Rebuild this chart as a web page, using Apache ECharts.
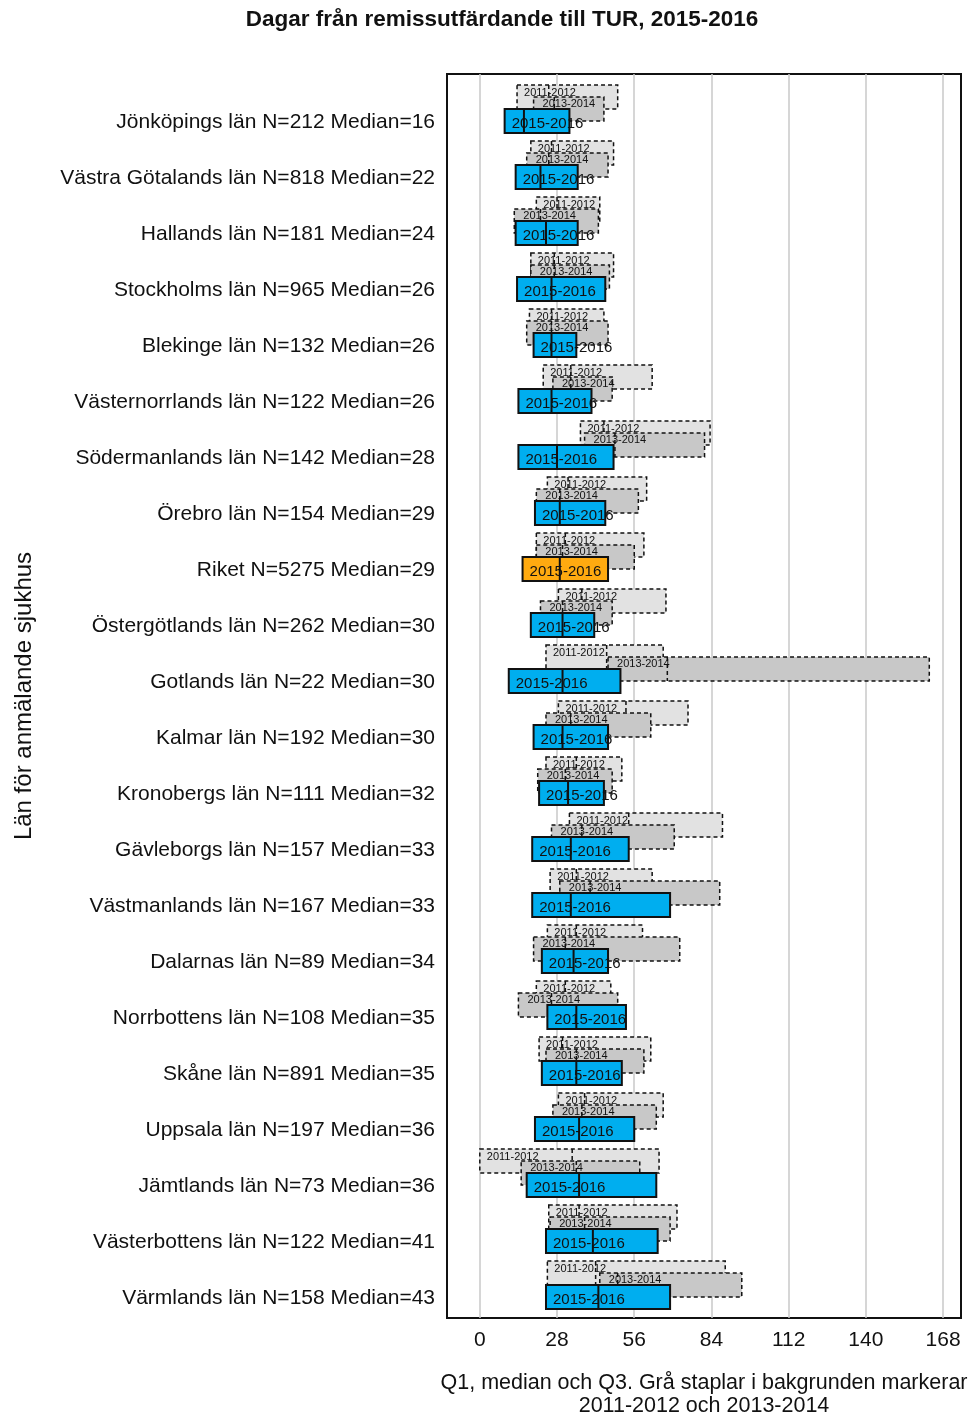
<!DOCTYPE html>
<html>
<head>
<meta charset="utf-8">
<script src="https://cdn.jsdelivr.net/npm/echarts@6/dist/echarts.min.js"></script>
<style>
  html, body { margin: 0; padding: 0; background: #fff; }
  #chart { width: 968px; height: 1418px; }
</style>
</head>
<body>
<div id="chart"></div>
<script>
// Regions, patient counts and 2015-2016 medians (as printed in the row labels)
const regions = [
  "Jönköpings län", "Västra Götalands län", "Hallands län", "Stockholms län",
  "Blekinge län", "Västernorrlands län", "Södermanlands län", "Örebro län",
  "Riket", "Östergötlands län", "Gotlands län", "Kalmar län",
  "Kronobergs län", "Gävleborgs län", "Västmanlands län", "Dalarnas län",
  "Norrbottens län", "Skåne län", "Uppsala län", "Jämtlands län",
  "Västerbottens län", "Värmlands län"
];
const counts = [212, 818, 181, 965, 132, 122, 142, 154, 5275, 262, 22, 192,
                111, 157, 167, 89, 108, 891, 197, 73, 122, 158];

// 2015-2016: Q1, median, Q3 (days)
const q1_2015  = [9, 13, 13, 13.5, 19.5, 14, 14, 20, 15.5, 18.5, 10.5, 19.5,
                  21.5, 19, 19, 22.5, 24.5, 22.5, 20, 17, 24, 24];
const med_2015 = [16, 22, 24, 26, 26, 26, 28, 29, 29, 30, 30, 30,
                  32, 33, 33, 34, 35, 35, 36, 36, 41, 43];
const q3_2015  = [32.5, 35.5, 35.5, 45.5, 35, 40.5, 48.5, 45.5, 46.5, 41.5, 51, 46.5,
                  45, 54, 69, 46.5, 53, 51.5, 56, 64, 64.5, 69];

// 2013-2014: Q1, median, Q3 (days)
const q1_2013  = [19.5, 17, 12.5, 18.5, 17, 26.5, 38, 20.5, 20.5, 22, 46.5, 24,
                  21, 26, 29, 19.5, 14, 24, 26.5, 15, 25.5, 43.5];
const med_2013 = [27, 25, 22, 27, 26, 33, 49, 29, 30, 30, 68, 33,
                  31, 37, 40, 31, 26, 35, 37, 35, 38, 50];
const q3_2013  = [45, 46.5, 43, 47, 46.5, 48, 81.5, 57.5, 56, 48, 163, 62,
                  48, 70.5, 87, 72.5, 50, 59.5, 64, 58, 69, 95];

// 2011-2012: Q1, median, Q3 (days)
const q1_2011  = [13.5, 18.5, 20.5, 18.5, 18, 23, 36.5, 24.5, 20.5, 28.5, 24, 28.5,
                  24, 32.5, 25.5, 24.5, 20.5, 21.5, 28.5, 0, 25, 24.5];
const med_2011 = [25, 26, 28, 27, 26, 33, 45, 32, 31, 37, 46, 53,
                  35, 54, 35, 35, 31, 30, 38, 33.5, 36, 42];
const q3_2011  = [50, 48.5, 43.5, 48.5, 45, 62.5, 83.5, 60.5, 59.5, 67.5, 66.5, 75.5,
                  51.5, 88, 62.5, 59, 47.5, 62, 66.5, 65, 71.5, 89];

const xTicks = [0, 28, 56, 84, 112, 140, 168];
const highlightRegion = "Riket";

const rowLabels = regions.map((r, i) => r + " N=" + counts[i] + " Median=" + med_2015[i]);
const rowIndex = regions.map((_, i) => i);

const FONT = '"Liberation Sans", Arial, sans-serif';

function rows(q1, med, q3) {
  return regions.map((r, i) => [i, q1[i], med[i], q3[i], r]);
}

// Draws one floating Q1–Q3 bar with a median mark, shifted vertically within its row
function makeRenderer(opts) {
  return function (params, api) {
    const idx = api.value(0);
    const pQ1 = api.coord([api.value(1), idx]);
    const pMed = api.coord([api.value(2), idx]);
    const pQ3 = api.coord([api.value(3), idx]);
    const unit = api.size([0, 1])[1];
    const top = pQ1[1] + opts.top * unit;
    const h = opts.height * unit;
    const fill = opts.fill(api.value(4));
    const children = [
      {
        type: 'rect',
        shape: { x: pQ1[0], y: top, width: pQ3[0] - pQ1[0], height: h },
        style: {
          fill: fill,
          stroke: '#111',
          lineWidth: opts.lineWidth,
          lineDash: opts.dashed ? [4, 3] : null
        }
      },
      {
        type: 'line',
        shape: { x1: pMed[0], y1: top, x2: pMed[0], y2: top + h },
        style: {
          stroke: '#111',
          lineWidth: opts.lineWidth,
          lineDash: opts.dashed ? [4, 3] : null
        }
      },
      {
        type: 'text',
        style: {
          x: pQ1[0] + opts.textDx,
          y: top + opts.textDy * unit,
          text: opts.text,
          fill: '#111',
          fontSize: opts.fontSize,
          fontFamily: FONT,
          align: 'left',
          verticalAlign: 'middle'
        }
      }
    ];
    return { type: 'group', children: children };
  };
}

const chart = echarts.init(document.getElementById('chart'), null, { renderer: 'canvas' });

chart.setOption({
  backgroundColor: '#fff',
  animation: false,
  graphic: [{
    type: 'text',
    x: 502, y: 20,
    style: {
      text: 'Dagar från remissutfärdande till TUR, 2015-2016',
      font: 'bold 22.5px ' + FONT,
      fill: '#111',
      align: 'center',
      verticalAlign: 'middle'
    }
  }],
  grid: {
    left: 447, right: 7, top: 74, bottom: 100,
    outerBoundsMode: 'none',
    show: true, borderColor: '#111', borderWidth: 2, backgroundColor: 'transparent'
  },
  xAxis: {
    type: 'value',
    min: -11.9, max: 174.5,
    axisLine: { show: false },
    axisTick: { show: false, customValues: xTicks },
    axisLabel: {
      customValues: xTicks,
      fontSize: 21, fontFamily: FONT, color: '#111', margin: 12
    },
    splitLine: { show: true, lineStyle: { color: '#c8c8c8', width: 1.5 } },
    name: 'Q1, median och Q3. Grå staplar i bakgrunden markerar\n2011-2012 och 2013-2014',
    nameLocation: 'middle',
    nameGap: 54,
    nameTextStyle: { fontSize: 21.5, fontFamily: FONT, color: '#111', lineHeight: 23 }
  },
  yAxis: {
    type: 'value',
    inverse: true,
    min: -0.856, max: 21.356,
    axisLine: { show: false },
    axisTick: { show: false },
    splitLine: { show: false },
    axisLabel: {
      customValues: rowIndex,
      formatter: v => rowLabels[Math.round(v)],
      fontSize: 21, fontFamily: FONT, color: '#111', margin: 12
    },
    name: 'Län för anmälande sjukhus',
    nameLocation: 'middle',
    nameGap: 411,
    nameTextStyle: { fontSize: 24, fontFamily: FONT, color: '#111' }
  },
  series: [
    {
      name: '2011-2012', type: 'custom',
      renderItem: makeRenderer({
        top: -0.66, height: 0.428, dashed: true, lineWidth: 1.5,
        fill: () => '#e2e2e2', text: '2011-2012', fontSize: 11, textDx: 7, textDy: 0.14
      }),
      encode: { x: [1, 2, 3], y: 0 },
      data: rows(q1_2011, med_2011, q3_2011),
      z: 2
    },
    {
      name: '2013-2014', type: 'custom',
      renderItem: makeRenderer({
        top: -0.446, height: 0.428, dashed: true, lineWidth: 1.5,
        fill: () => '#c8c8c8', text: '2013-2014', fontSize: 11, textDx: 9, textDy: 0.13
      }),
      encode: { x: [1, 2, 3], y: 0 },
      data: rows(q1_2013, med_2013, q3_2013),
      z: 3
    },
    {
      name: '2015-2016', type: 'custom',
      renderItem: makeRenderer({
        top: -0.232, height: 0.428, dashed: false, lineWidth: 2,
        fill: r => (r === highlightRegion ? '#FFAA10' : '#00AEEF'),
        text: '2015-2016', fontSize: 15, textDx: 7, textDy: 0.26
      }),
      encode: { x: [1, 2, 3], y: 0 },
      data: rows(q1_2015, med_2015, q3_2015),
      z: 4
    }
  ]
});
</script>
</body>
</html>
